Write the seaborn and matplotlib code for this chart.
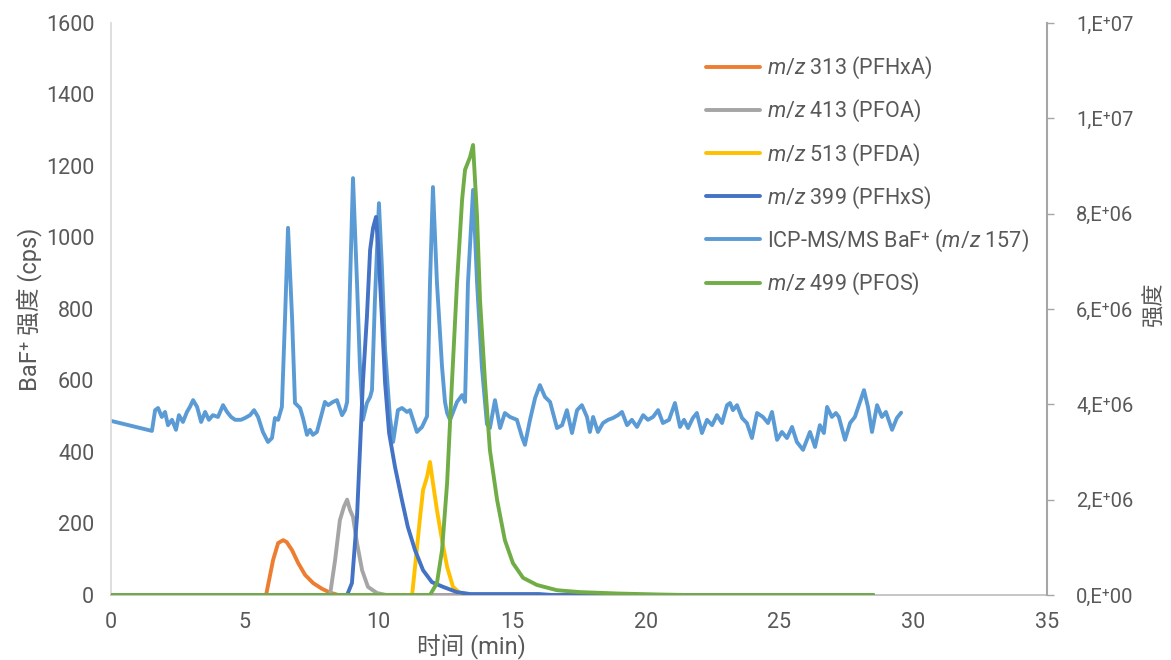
import numpy as np
import pandas as pd
import matplotlib
matplotlib.use("Agg")
import matplotlib.pyplot as plt
import matplotlib.ticker as mticker
import seaborn as sns

# ICP-MS/MS BaF+ (m/z 157), left axis, cps
icp_time = [0.0, 1.53, 1.65, 1.76, 1.90, 2.02, 2.13, 2.28, 2.43, 2.54, 2.69, 2.84, 2.95, 3.07,
            3.22, 3.37, 3.52, 3.66, 3.81, 4.00, 4.19, 4.34, 4.49, 4.64, 4.86, 5.01, 5.20, 5.35,
            5.50, 5.68, 5.87, 6.02, 6.13, 6.25, 6.39, 6.51, 6.62, 6.77, 6.88, 7.07, 7.18, 7.33,
            7.44, 7.55, 7.70, 7.89, 8.00, 8.12, 8.30, 8.45, 8.64, 8.75, 8.83, 8.94, 9.05, 9.20,
            9.31, 9.42, 9.57, 9.69, 9.76, 9.87, 10.02, 10.13, 10.25, 10.43, 10.55, 10.73, 10.88,
            11.07, 11.18, 11.44, 11.63, 11.82, 11.93, 12.04, 12.19, 12.38, 12.49, 12.57, 12.68,
            12.94, 13.13, 13.24, 13.35, 13.54, 13.69, 13.87, 14.06, 14.17, 14.36, 14.55, 14.73,
            14.92, 15.18, 15.37, 15.48, 15.67, 15.86, 16.04, 16.23, 16.42, 16.68, 16.87, 17.05,
            17.24, 17.43, 17.61, 17.80, 17.91, 18.03, 18.21, 18.40, 18.59, 18.77, 18.96, 19.11,
            19.30, 19.48, 19.67, 19.90, 20.08, 20.27, 20.46, 20.64, 20.87, 21.09, 21.28, 21.43,
            21.58, 21.76, 21.91, 22.10, 22.29, 22.48, 22.66, 22.85, 23.04, 23.15, 23.26, 23.41,
            23.60, 23.78, 23.97, 24.16, 24.38, 24.57, 24.72, 24.91, 25.09, 25.28, 25.47, 25.65,
            25.88, 26.14, 26.33, 26.51, 26.66, 26.78, 26.96, 27.11, 27.22, 27.45, 27.64, 27.82,
            28.01, 28.16, 28.31, 28.46, 28.65, 28.83, 28.98, 29.21, 29.39, 29.55]
icp_cps = [487, 459, 517, 523, 498, 512, 475, 490, 462, 503, 484, 512, 526, 545,
           526, 484, 512, 490, 503, 498, 531, 512, 498, 490, 490, 495, 503, 517,
           498, 456, 428, 439, 495, 490, 526, 778, 1027, 778, 537, 523, 495, 448,
           462, 448, 456, 509, 540, 531, 540, 545, 503, 517, 540, 873, 1166, 873,
           638, 490, 537, 554, 573, 825, 1096, 918, 685, 498, 428, 517, 523,
           512, 517, 456, 470, 500, 873, 1141, 873, 638, 540, 509, 490,
           540, 559, 540, 873, 1133, 873, 638, 478, 467, 545, 467, 509,
           498, 490, 442, 420, 490, 551, 587, 554, 540, 467, 475, 517,
           453, 517, 531, 498, 456, 498, 456, 481, 490, 495, 503, 512,
           475, 490, 470, 503, 490, 498, 517, 481, 490, 537, 470, 490,
           467, 495, 509, 453, 490, 475, 503, 481, 531, 537, 517, 531,
           495, 481, 439, 509, 498, 481, 512, 434, 456, 439, 470, 428,
           406, 456, 414, 475, 453, 526, 498, 509, 498, 434, 481, 498,
           540, 573, 526, 456, 531, 498, 512, 462, 495, 510]

# MS traces, right axis, intensity in units of 1E6
pfhxa_time = [0.0, 5.80, 6.06, 6.25, 6.44, 6.57, 6.77, 7.00, 7.26, 7.56, 7.89, 8.19, 8.50, 28.5]
pfhxa_int = [0.0, 0.0, 0.73, 1.09, 1.15, 1.11, 0.94, 0.67, 0.42, 0.25, 0.13, 0.05, 0.0, 0.0]

pfoa_time = [0.0, 8.19, 8.38, 8.56, 8.71, 8.83, 8.94, 9.05, 9.20, 9.39, 9.61, 9.95, 10.3, 28.5]
pfoa_int = [0.0, 0.0, 0.73, 1.57, 1.85, 2.0, 1.78, 1.64, 1.09, 0.52, 0.17, 0.04, 0.0, 0.0]

pfda_time = [0.0, 11.26, 11.37, 11.56, 11.67, 11.82, 11.93, 12.04, 12.19, 12.38, 12.57, 12.79, 13.13, 28.5]
pfda_int = [0.0, 0.0, 0.59, 1.64, 2.2, 2.48, 2.79, 2.35, 1.78, 1.15, 0.59, 0.17, 0.0, 0.0]

pfhxs_time = [0.0, 8.83, 9.01, 9.20, 9.31, 9.42, 9.57, 9.69, 9.80, 9.91, 10.00, 10.13, 10.25,
              10.40, 10.62, 10.88, 11.10, 11.37, 11.67, 12.00, 12.42, 12.94, 13.43, 16.0, 16.5, 28.5]
pfhxs_int = [0.0, 0.0, 0.25, 1.64, 3.04, 4.45, 5.83, 7.24, 7.7, 7.93, 7.24, 5.83, 4.45,
             3.4, 2.69, 1.99, 1.43, 0.94, 0.52, 0.27, 0.17, 0.06, 0.02, 0.02, 0.0, 0.0]

pfos_time = [0.0, 11.93, 12.19, 12.38, 12.57, 12.75, 12.94, 13.13, 13.24, 13.31, 13.43, 13.54,
             13.69, 13.80, 13.99, 14.17, 14.44, 14.73, 15.03, 15.41, 15.93, 16.68, 17.54, 19.0,
             20.5, 21.5, 28.5]
pfos_int = [0.0, 0.0, 0.25, 0.94, 2.35, 4.45, 6.55, 8.29, 8.92, 9.02, 9.19, 9.44,
            7.93, 6.19, 4.45, 3.04, 1.99, 1.15, 0.67, 0.36, 0.21, 0.10, 0.06, 0.03,
            0.01, 0.0, 0.0]

ms_series = [
    ("PFHxA", "313", pfhxa_time, pfhxa_int, "#ED7D31"),
    ("PFOA", "413", pfoa_time, pfoa_int, "#A5A5A5"),
    ("PFDA", "513", pfda_time, pfda_int, "#FFC000"),
    ("PFHxS", "399", pfhxs_time, pfhxs_int, "#4472C4"),
    ("PFOS", "499", pfos_time, pfos_int, "#70AD47"),
]

sns.set_theme(style="white")
plt.rcParams['font.family'] = ['Roboto', 'Noto Sans CJK SC', 'DejaVu Sans']
plt.rcParams['mathtext.fontset'] = 'custom'
plt.rcParams['mathtext.it'] = 'Roboto:italic'
plt.rcParams['mathtext.rm'] = 'Roboto'

txt_color = "#595959"
lw = 2.8

fig = plt.figure(figsize=(11.71, 6.6), dpi=100)
ax = fig.add_axes([0.0948, 0.0985, 0.7992, 0.8667])
ax2 = ax.twinx()

icp_df = pd.DataFrame({"time": icp_time, "cps": icp_cps})
sns.lineplot(data=icp_df, x="time", y="cps", ax=ax, color="#5B9BD5", lw=lw,
             estimator=None, sort=False)

handles = {}
for name, mz, t, v, col in ms_series:
    df = pd.DataFrame({"time": t, "int": np.array(v) * 1e6})
    sns.lineplot(data=df, x="time", y="int", ax=ax2, color=col, lw=lw,
                 estimator=None, sort=False)
    handles[name] = ax2.lines[-1]

ax.set_xlim(0, 35)
ax.set_ylim(0, 1600)
ax.set_xticks(range(0, 36, 5))
ax.set_yticks(range(0, 1601, 200))
ax2.set_ylim(0, 1.2e7)
ax2.set_yticks(np.arange(0, 1.21e7, 2e6))


def excel_sci(val, pos):
    # Excel "0,E+00" style labels
    if val == 0:
        return "0,E\u207a00"
    e = int(np.floor(np.log10(abs(val))))
    m = val / 10 ** e
    return f"{m:.0f},E\u207a{e:02d}"


ax2.yaxis.set_major_formatter(mticker.FuncFormatter(excel_sci))

for a in (ax, ax2):
    a.spines['top'].set_visible(False)
    a.set_xlabel("")
    a.set_ylabel("")
ax.spines['left'].set_color("#D9D9D9")
ax.spines['bottom'].set_color("#BFBFBF")
ax.spines['right'].set_visible(False)
ax2.spines['left'].set_visible(False)
ax2.spines['bottom'].set_visible(False)
ax2.spines['right'].set_color("#A6A6A6")
ax2.spines['right'].set_linewidth(1.5)

ax.tick_params(axis='both', length=0, labelsize=15.5, labelcolor=txt_color)
ax.tick_params(axis='y', pad=12)
ax.tick_params(axis='x', pad=12)
ax2.tick_params(axis='y', length=5, width=1, color="#A6A6A6", labelsize=14.5,
                labelcolor=txt_color, pad=16)

ax.set_xlabel("时间 (min)", fontsize=17, color=txt_color)
ax.xaxis.set_label_coords(0.385, -0.07)
ax.set_ylabel("BaF\u207a 强度 (cps)", fontsize=17, color=txt_color)
ax.yaxis.set_label_coords(-0.074, 0.5)
ax2.set_ylabel("强度", fontsize=16, color=txt_color)
ax2.yaxis.set_label_coords(1.104, 0.51)

icp_line = ax.lines[0]
leg_handles = [handles["PFHxA"], handles["PFOA"], handles["PFDA"], handles["PFHxS"],
               icp_line, handles["PFOS"]]
leg_labels = ["$m/z$ 313 (PFHxA)", "$m/z$ 413 (PFOA)", "$m/z$ 513 (PFDA)",
              "$m/z$ 399 (PFHxS)", "ICP-MS/MS BaF\u207a ($m/z$ 157)", "$m/z$ 499 (PFOS)"]
ax2.legend(leg_handles, leg_labels, loc="upper left", bbox_to_anchor=(0.615, 0.978),
           frameon=False, fontsize=15.5, labelcolor=txt_color, handlelength=2.5,
           labelspacing=0.79, handletextpad=0.35)

fig.savefig("out.png", dpi=100)
plt.close(fig)
